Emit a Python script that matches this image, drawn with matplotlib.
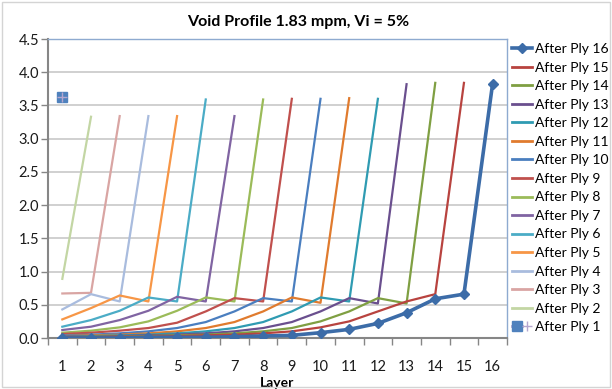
import matplotlib
matplotlib.use("Agg")
import matplotlib.pyplot as plt
from matplotlib.patches import Rectangle
from matplotlib.legend_handler import HandlerTuple
from matplotlib.ticker import MultipleLocator, FormatStrFormatter

plt.rcParams['font.family'] = ['Lato', 'DejaVu Sans']

# void content profile after each ply (layer 1..n)
ply1 = [3.62]
ply2 = [0.89, 3.33]
ply3 = [0.67, 0.68, 3.34]
ply4 = [0.43, 0.66, 0.55, 3.34]
ply5 = [0.28, 0.45, 0.64, 0.55, 3.34]
ply6 = [0.17, 0.27, 0.41, 0.61, 0.55, 3.59]
ply7 = [0.12, 0.17, 0.27, 0.41, 0.62, 0.55, 3.34]
ply8 = [0.08, 0.11, 0.16, 0.25, 0.41, 0.61, 0.55, 3.59]
ply9 = [0.06, 0.08, 0.11, 0.15, 0.23, 0.40, 0.60, 0.55, 3.60]
ply10 = [0.04, 0.05, 0.07, 0.10, 0.15, 0.24, 0.40, 0.60, 0.55, 3.60]
ply11 = [0.03, 0.04, 0.05, 0.07, 0.10, 0.15, 0.24, 0.40, 0.61, 0.53, 3.61]
ply12 = [0.02, 0.03, 0.04, 0.05, 0.07, 0.10, 0.15, 0.24, 0.40, 0.61, 0.55, 3.60]
ply13 = [0.02, 0.02, 0.03, 0.04, 0.05, 0.07, 0.10, 0.15, 0.24, 0.40, 0.60, 0.52, 3.82]
ply14 = [0.01, 0.02, 0.02, 0.03, 0.04, 0.05, 0.07, 0.10, 0.15, 0.25, 0.40, 0.60, 0.52, 3.84]
ply15 = [0.01, 0.01, 0.02, 0.02, 0.03, 0.04, 0.05, 0.07, 0.10, 0.16, 0.25, 0.40, 0.55, 0.66, 3.84]
ply16 = [0.00, 0.00, 0.00, 0.01, 0.01, 0.01, 0.02, 0.03, 0.04, 0.08, 0.13, 0.22, 0.38, 0.59, 0.66, 3.83]

plies = [ply1, ply2, ply3, ply4, ply5, ply6, ply7, ply8,
         ply9, ply10, ply11, ply12, ply13, ply14, ply15, ply16]
colors = ['#b4a7cf', '#c3d6a4', '#d9a5a3', '#a9bcde', '#f79646', '#4bacc6',
          '#8064a2', '#9bbb59', '#c0504d', '#4a7ebf', '#e07b2e', '#2f9bb2',
          '#6a4f8e', '#7f9f42', '#b8433f', '#3c6ca8']
labels = ['After Ply %d' % (i + 1) for i in range(16)]

fig = plt.figure(figsize=(6.12, 3.89), dpi=100)
ax = fig.add_axes([0.0784, 0.1311, 0.75, 0.7686])

handles = []
for i, vals in enumerate(plies):
    layers = list(range(1, len(vals) + 1))
    if i == 0:
        sq, = ax.plot(layers, vals, color=colors[i], lw=1.6, marker='s',
                      ms=6.5, mfc='#4f81bd', mec='#4f81bd', zorder=3)
        pl, = ax.plot(layers, vals, ls='none', marker='+', ms=6.5,
                      mec='#b4a7cf', mew=1, zorder=3.1)
        handles.append((sq, pl))
    elif i == 15:
        h, = ax.plot(layers, vals, color=colors[i], lw=2.6, marker='D',
                     ms=5.5, zorder=4)
        handles.append(h)
    else:
        h, = ax.plot(layers, vals, color=colors[i], lw=1.6, zorder=3)
        handles.append(h)

ax.set_xlim(0.5, 16.5)
ax.set_ylim(0, 4.5)
ax.set_xticks(range(1, 17))
ax.set_xticks([x + 0.5 for x in range(0, 17)], minor=True)
ax.yaxis.set_major_locator(MultipleLocator(0.5))
ax.yaxis.set_major_formatter(FormatStrFormatter('%.1f'))
ax.tick_params(axis='x', which='major', length=0, pad=16, labelsize=10.5,
               labelcolor='#1a1a1a')
ax.tick_params(axis='x', which='minor', length=5, color='#868686', width=1)
ax.tick_params(axis='y', length=5, color='#868686', width=1, labelsize=10.5,
               labelcolor='#1a1a1a', pad=1.5)
ax.grid(axis='y', color='#c8c8c8', lw=1.2)
ax.set_axisbelow(True)

for side in ['top', 'right']:
    ax.spines[side].set_color('#8eaad0')
    ax.spines[side].set_linewidth(1)
for side in ['left', 'bottom']:
    ax.spines[side].set_color('#868686')
    ax.spines[side].set_linewidth(1.5)

ax.set_xlabel('Layer', fontsize=10, fontweight='bold', labelpad=2)
fig.text(0.487, 0.943, 'Void Profile 1.83 mpm, Vi = 5%', ha='center',
         va='center', fontsize=11.5, fontweight='bold')

leg = fig.legend(handles[::-1], labels[::-1], loc='upper left',
                 bbox_to_anchor=(0.836, 0.889), frameon=False, fontsize=10,
                 handlelength=1.5, handletextpad=0.15, labelspacing=0.47,
                 borderpad=0, borderaxespad=0,
                 handler_map={tuple: HandlerTuple(ndivide=None, pad=0)})
for line in leg.get_lines():
    line.set_linewidth(max(line.get_linewidth(), 2))

fig.patches.append(Rectangle((0.003, 0.004), 0.994, 0.992,
                             transform=fig.transFigure, fill=False,
                             ec='#d4d4d4', lw=1))

fig.savefig('out.png', dpi=100)
